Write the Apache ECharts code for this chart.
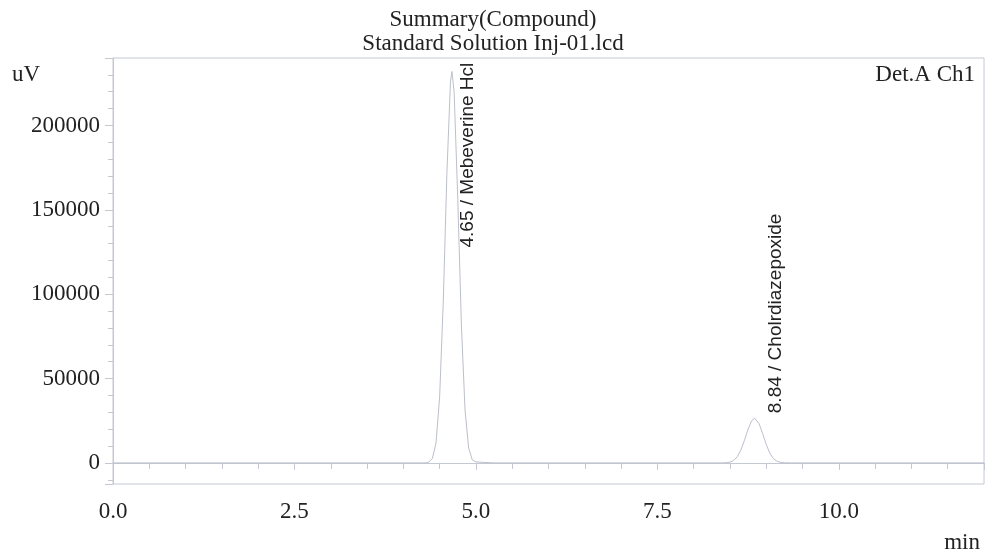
<!DOCTYPE html>
<html>
<head>
<meta charset="utf-8">
<script src="https://cdn.jsdelivr.net/npm/echarts@6.0.0/dist/echarts.min.js"></script>
<style>
	html, body { margin: 0; padding: 0; background: #fff; }
	#chart { width: 986px; height: 551px; }
</style>
</head>
<body>
<div id="chart"></div>
<script>
// retention time (min) and detector signal (uV)
let times = [0.0, 4.30, 4.35, 4.40, 4.45, 4.50, 4.55, 4.60, 4.65, 4.67, 4.70, 4.75, 4.80, 4.85, 4.90, 4.95, 5.00, 5.10, 5.25,
	8.40, 8.45, 8.50, 8.55, 8.60, 8.65, 8.70, 8.75, 8.80, 8.84, 8.90, 8.95, 9.00, 9.05, 9.10, 9.15, 9.20, 9.25, 9.35, 12.0];
let signal = [0, 0, 400, 2600, 11700, 39000, 95400, 171500, 226400, 232000, 219500, 156300, 81700, 31400, 8800, 1800, 600, 300, 0,
	0, 150, 480, 1430, 3590, 7580, 13400, 20000, 25100, 26500, 23400, 17400, 10900, 5700, 2500, 940, 300, 80, 0, 0];

// peak annotations
let peakTimes = [4.65, 8.84];
let peakHeights = [232000, 26500];
let peakNames = ["Mebeverine Hcl", "Cholrdiazepoxide"];

let serif = "Liberation Serif";
let lineColor = "#c3c8d2";

let chart = echarts.init(document.getElementById("chart"), null, { renderer: "canvas" });

//标注偏移（旋转后的坐标系）：第一个峰太高，文字往下放
let labelOffsets = [[-176, 17], [5, 21]];

let option = {
	animation: false,
	backgroundColor: "#fff",
	title: [{
		text: "Summary(Compound)\nStandard Solution Inj-01.lcd",
		left: "center",
		top: 3,
		textStyle: { fontFamily: serif, fontSize: 23, fontWeight: "normal", color: "#222", lineHeight: 24 }
	}, {
		text: "uV",
		left: 7,
		top: 58,
		textStyle: { fontFamily: serif, fontSize: 23, fontWeight: "normal", color: "#222" }
	}, {
		text: "Det.A Ch1",
		right: 6,
		top: 58,
		textStyle: { fontFamily: serif, fontSize: 23, fontWeight: "normal", color: "#222" }
	}, {
		text: "min",
		right: 1,
		top: 526,
		textStyle: { fontFamily: serif, fontSize: 23, fontWeight: "normal", color: "#222" }
	}],
	grid: {
		left: 113,
		right: 2,
		top: 58,
		bottom: 67,
		show: true,
		borderColor: lineColor,
		borderWidth: 1
	},
	xAxis: {
		type: "value",
		min: 0,
		max: 12,
		interval: 2.5,
		axisLine: { show: true, lineStyle: { color: lineColor } },
		axisTick: { show: true, length: 7, lineStyle: { color: lineColor } },
		minorTick: { show: true, splitNumber: 5, length: 6, lineStyle: { color: lineColor } },
		splitLine: { show: false },
		axisLabel: {
			margin: 16,
			fontFamily: serif,
			fontSize: 23,
			color: "#222",
			showMaxLabel: false,
			formatter: v => (Math.abs(v / 2.5 - Math.round(v / 2.5)) < 1e-6 ? v.toFixed(1) : "")
		}
	},
	yAxis: {
		type: "value",
		min: -12500,
		max: 240000,
		splitNumber: 5,
		axisLine: { show: true, lineStyle: { color: lineColor } },
		axisTick: { show: true, length: 8, lineStyle: { color: lineColor } },
		minorTick: { show: true, splitNumber: 5, length: 5, lineStyle: { color: lineColor } },
		splitLine: { show: false },
		axisLabel: {
			margin: 13,
			fontFamily: serif,
			fontSize: 23,
			color: "#222",
			showMinLabel: false,
			showMaxLabel: false,
			formatter: v => (v % 50000 === 0 ? String(v) : "")
		}
	},
	series: [{
		type: "line",
		data: times.map((t, i) => [t, signal[i]]),
		showSymbol: false,
		lineStyle: { color: "#bcc0cb", width: 1 },
		markPoint: {
			symbol: "circle",
			symbolSize: 1,
			itemStyle: { color: "rgba(0,0,0,0)" },
			label: {
				show: true,
				position: "inside",
				rotate: 90,
				align: "left",
				verticalAlign: "middle",
				fontFamily: "Liberation Sans",
				fontSize: 19,
				color: "#222"
			},
			data: peakTimes.map((t, i) => ({
				coord: [t, peakHeights[i]],
				label: {
					formatter: t.toFixed(2) + " / " + peakNames[i],
					offset: labelOffsets[i]
				}
			}))
		}
	}]
};

chart.setOption(option);
</script>
</body>
</html>
